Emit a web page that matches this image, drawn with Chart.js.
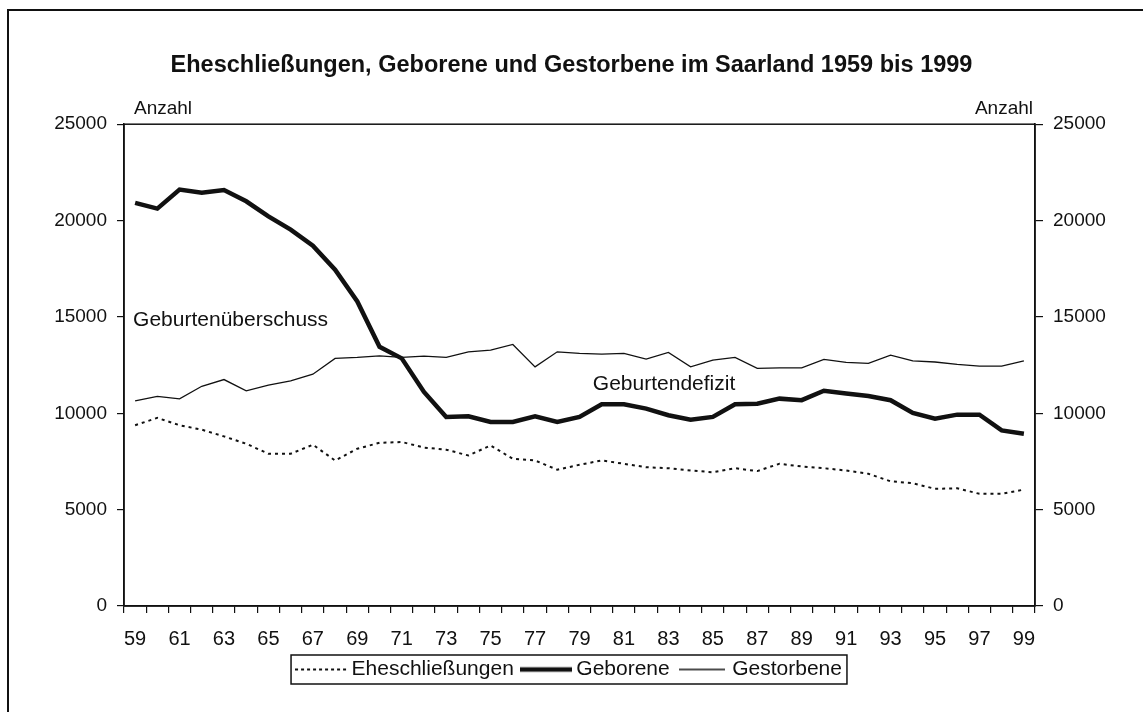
<!DOCTYPE html>
<html>
<head>
<meta charset="utf-8">
<script src="https://cdn.jsdelivr.net/npm/chart.js@4/dist/chart.umd.min.js"></script>
<style>
  html, body { margin: 0; padding: 0; background: #fff; }
  #wrap { width: 1143px; height: 712px; }
</style>
</head>
<body>
<div id="wrap"><canvas id="chart" width="1143" height="712"></canvas></div>
<script>
const years = ['59','60','61','62','63','64','65','66','67','68','69','70','71','72','73','74','75','76','77','78','79',
               '80','81','82','83','84','85','86','87','88','89','90','91','92','93','94','95','96','97','98','99'];

const eheschliessungen = [9380, 9760, 9380, 9150, 8800, 8420, 7900, 7900, 8370, 7550, 8160, 8470, 8510, 8220, 8110, 7810, 8330, 7640, 7550, 7070, 7330,
                          7550, 7380, 7200, 7150, 7030, 6940, 7150, 7000, 7380, 7240, 7150, 7030, 6860, 6470, 6370, 6080, 6110, 5820, 5820, 6040];

const geborene = [20920, 20620, 21610, 21440, 21580, 21000, 20220, 19530, 18700, 17450, 15800, 13450, 12850, 11110, 9810, 9840, 9550, 9550, 9840, 9550, 9810,
                  10470, 10470, 10240, 9900, 9670, 9810, 10470, 10500, 10760, 10680, 11170, 11030, 10900, 10680, 10020, 9720, 9930, 9930, 9110, 8940];

const gestorbene = [10640, 10880, 10750, 11400, 11750, 11160, 11460, 11680, 12030, 12850, 12900, 12980, 12900, 12970, 12900, 13190, 13280, 13570, 12410, 13190, 13110,
                    13070, 13110, 12810, 13160, 12410, 12760, 12900, 12330, 12360, 12360, 12800, 12640, 12590, 13020, 12720, 12660, 12540, 12450, 12450, 12720];

const yTicks = [0, 5000, 10000, 15000, 20000, 25000];

const ink = '#111';
const fontFamily = '"Liberation Sans", Arial, sans-serif';

// small line samples used as legend symbols
function lineSample(width, lineWidth, dash) {
  const c = document.createElement('canvas');
  c.width = width;
  c.height = 8;
  const g = c.getContext('2d');
  g.strokeStyle = ink;
  g.lineWidth = lineWidth;
  g.setLineDash(dash);
  g.beginPath();
  g.moveTo(0, 4);
  g.lineTo(width, 4);
  g.stroke();
  return c;
}

// frame, plot border, "Anzahl" labels, text notes and legend box
const decorations = {
  id: 'decorations',
  beforeDraw(chart) {
    const ctx = chart.ctx;
    ctx.save();
    ctx.fillStyle = '#fff';
    ctx.fillRect(0, 0, chart.width, chart.height);
    ctx.strokeStyle = ink;
    ctx.lineWidth = 2;
    ctx.strokeRect(8, 10, chart.width + 20, chart.height + 20);
    ctx.restore();
  },
  afterDraw(chart) {
    const ctx = chart.ctx;
    const a = chart.chartArea;
    const x = chart.scales.x;
    const y = chart.scales.y;
    ctx.save();
    ctx.strokeStyle = ink;
    ctx.lineWidth = 1.5;
    ctx.strokeRect(a.left, a.top, a.right - a.left, a.bottom - a.top);

    ctx.fillStyle = ink;
    ctx.font = '19px ' + fontFamily;
    ctx.textBaseline = 'alphabetic';
    ctx.textAlign = 'left';
    ctx.fillText('Anzahl', a.left + 10, a.top - 10);
    ctx.textAlign = 'right';
    ctx.fillText('Anzahl', a.right - 2, a.top - 10);

    ctx.font = '21px ' + fontFamily;
    ctx.textAlign = 'left';
    ctx.textBaseline = 'middle';
    ctx.fillText('Geburtenüberschuss', x.getPixelForValue(0) - 2, y.getPixelForValue(14840));
    ctx.fillText('Geburtendefizit', x.getPixelForValue(20.6), y.getPixelForValue(11510));

    const boxes = chart.legend.legendHitBoxes;
    if (boxes && boxes.length) {
      const l = Math.min(...boxes.map(b => b.left));
      const r = Math.max(...boxes.map(b => b.left + b.width));
      const t = Math.min(...boxes.map(b => b.top));
      const btm = Math.max(...boxes.map(b => b.top + b.height));
      ctx.lineWidth = 1.5;
      ctx.strokeRect(l - 10, t - 4, r - l + 15, btm - t + 8);
    }
    ctx.restore();
  }
};

new Chart(document.getElementById('chart'), {
  type: 'line',
  data: {
    labels: years,
    datasets: [
      {
        label: 'Eheschließungen',
        data: eheschliessungen,
        borderColor: ink,
        borderWidth: 2,
        borderDash: [3, 4],
        pointRadius: 0,
        pointStyle: lineSample(52, 2, [3, 3]),
        tension: 0
      },
      {
        label: 'Geborene',
        data: geborene,
        borderColor: ink,
        borderWidth: 4.5,
        pointRadius: 0,
        pointStyle: lineSample(52, 4.5, []),
        tension: 0
      },
      {
        label: 'Gestorbene',
        data: gestorbene,
        borderColor: ink,
        borderWidth: 1.3,
        pointRadius: 0,
        pointStyle: lineSample(46, 1.3, []),
        tension: 0
      }
    ]
  },
  options: {
    responsive: false,
    animation: false,
    layout: { padding: { left: 0, right: 0, top: 0, bottom: 22 } },
    plugins: {
      title: {
        display: true,
        text: 'Eheschließungen, Geborene und Gestorbene im Saarland 1959 bis 1999',
        color: ink,
        font: { family: fontFamily, size: 23.5, weight: 'bold', lineHeight: 1.2 },
        padding: { top: 51, bottom: 45 }
      },
      legend: {
        position: 'bottom',
        labels: {
          color: ink,
          font: { family: fontFamily, size: 21 },
          usePointStyle: true,
          pointStyleWidth: 40,
          padding: 12
        }
      },
      tooltip: { enabled: false }
    },
    scales: {
      x: {
        offset: true,
        afterFit(scale) { scale.height = 41; },
        grid: { offset: true, drawOnChartArea: false, drawTicks: true, tickLength: 7, color: ink, lineWidth: 1.2 },
        border: { display: true, color: ink, width: 1.5 },
        ticks: {
          autoSkip: false,
          maxRotation: 0,
          padding: 14,
          color: ink,
          font: { family: fontFamily, size: 20 },
          callback(value, index) { return index % 2 === 0 ? years[index] : ''; }
        }
      },
      y: {
        position: 'left',
        min: 0,
        max: 25000,
        afterFit(scale) { scale.width = 124; },
        afterBuildTicks(scale) { scale.ticks = yTicks.map(v => ({ value: v })); },
        grid: { drawOnChartArea: false, drawTicks: true, tickLength: 7, color: ink, lineWidth: 1.2 },
        border: { display: true, color: ink, width: 1.5 },
        ticks: { padding: 10, color: ink, font: { family: fontFamily, size: 19 }, callback: v => String(v) }
      },
      y2: {
        position: 'right',
        min: 0,
        max: 25000,
        afterFit(scale) { scale.width = 108; },
        afterBuildTicks(scale) { scale.ticks = yTicks.map(v => ({ value: v })); },
        grid: { drawOnChartArea: false, drawTicks: true, tickLength: 8, color: ink, lineWidth: 1.2 },
        border: { display: true, color: ink, width: 1.5 },
        ticks: { padding: 10, color: ink, font: { family: fontFamily, size: 19 }, callback: v => String(v) }
      }
    }
  },
  plugins: [decorations]
});
</script>
</body>
</html>
